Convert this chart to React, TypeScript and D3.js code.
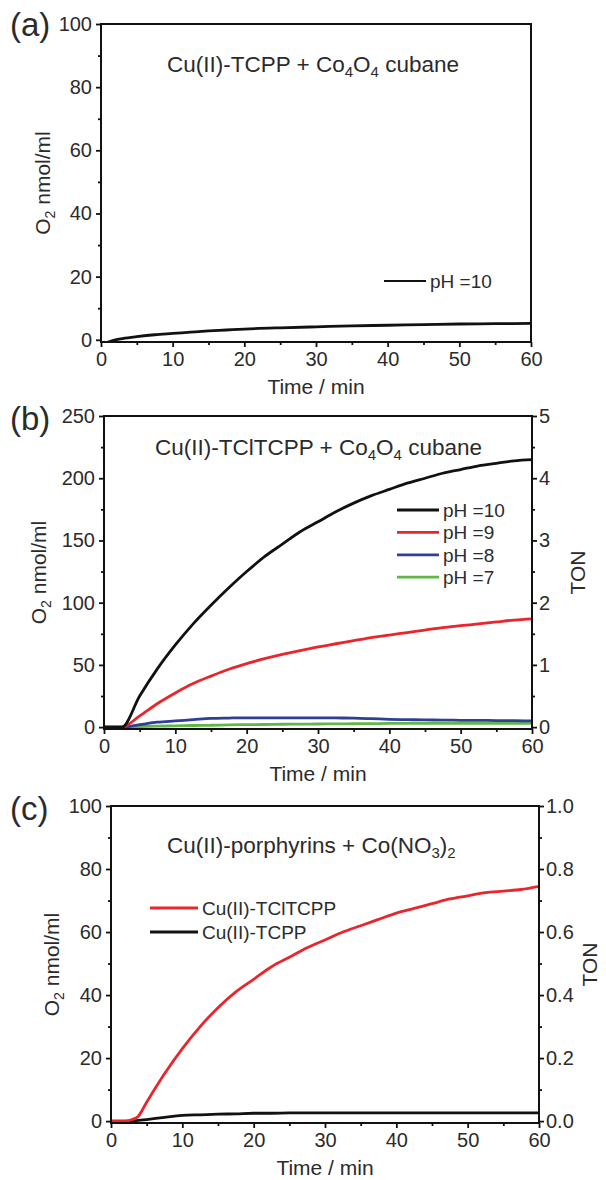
import React, { useEffect, useRef } from 'react';
import * as d3 from 'd3';

// ---------- data ----------
const timeTicks = [0, 10, 20, 30, 40, 50, 60];

// Panel (a): Cu(II)-TCPP + Co4O4 cubane
const aTime = [0, 1, 2, 3, 5, 7.5, 10, 12.5, 15, 17.5, 20, 25, 30, 35, 40, 45, 50, 55, 60];
const aPH10 = [-1, -0.7, 0, 0.4, 1, 1.6, 2, 2.4, 2.8, 3.1, 3.4, 3.8, 4.1, 4.4, 4.6, 4.8, 5, 5.1, 5.2];
const aYTicks = [0, 20, 40, 60, 80, 100];

// Panel (b): Cu(II)-TClTCPP + Co4O4 cubane
const bTime = [0, 2.5, 5, 7.5, 10, 12.5, 15, 17.5, 20, 22.5, 25, 27.5, 30, 32.5, 35, 37.5, 40, 42.5, 45, 47.5, 50, 52.5, 55, 57.5, 60];
const bPH10 = [0, 0, 25, 47, 66, 83, 98, 112, 125, 137, 147, 157, 165, 173, 180, 186, 191, 196, 200, 204, 207, 210, 212, 214, 215];
const bPH9 = [0, 0, 9, 19, 27.5, 35, 41, 46.5, 51, 55, 58.5, 61.5, 64.5, 67, 69.5, 72, 74, 76, 78, 80, 81.5, 83, 84.5, 86, 87];
const bPH8 = [0, 0, 2, 4, 5, 6, 7, 7.3, 7.5, 7.5, 7.5, 7.5, 7.5, 7.4, 7.2, 6.8, 6.3, 6, 5.8, 5.7, 5.5, 5.4, 5.3, 5.2, 5];
const bPH7 = [0, 0, 0.5, 0.8, 1, 1.3, 1.5, 1.8, 2, 2.1, 2.3, 2.4, 2.5, 2.6, 2.7, 2.8, 3, 3, 3, 3, 3, 3, 3, 3, 3];
const bYTicks = [0, 50, 100, 150, 200, 250];
const bTonTicks = [0, 1, 2, 3, 4, 5];

// Panel (c): Cu(II)-porphyrins + Co(NO3)2
const cTime = [0, 2, 3, 3.8, 5, 7.5, 10, 12.5, 15, 17.5, 20, 22.5, 25, 27.5, 30, 32.5, 35, 37.5, 40, 42.5, 45, 47.5, 50, 52.5, 55, 57.5, 60];
const cTClTCPP = [0, 0, 0.5, 1.5, 6, 15, 23, 30, 36, 41, 45, 49, 52, 55, 57.5, 60, 62, 64, 66, 67.5, 69, 70.5, 71.5, 72.5, 73, 73.5, 74.5];
const cTCPP = [0, 0, 0, 0.2, 0.5, 1.2, 1.8, 2, 2.2, 2.3, 2.5, 2.5, 2.6, 2.6, 2.6, 2.6, 2.6, 2.6, 2.6, 2.6, 2.6, 2.6, 2.6, 2.6, 2.6, 2.6, 2.6];
const cYTicks = [0, 20, 40, 60, 80, 100];
const cTonTicks = [0, 0.2, 0.4, 0.6, 0.8, 1.0];

const legendA = ['pH =10'];
const legendB = ['pH =10', 'pH =9', 'pH =8', 'pH =7'];
const legendC = ['Cu(II)-TClTCPP', 'Cu(II)-TCPP'];

// ---------- styling ----------
const FONT = "'Liberation Sans', Arial, sans-serif";
const TXT = '#2b2b2b';
const BLACK = '#111111';
const RED = '#e8262c';
const BLUE = '#2f3f95';
const GREEN = '#62b548';

type Series = { t: number[]; v: number[]; color: string; label: string };
type Panel = {
  letter: string;
  left: number; right: number; top: number; bottom: number;
  yDomain: [number, number];
  yTicks: number[]; yMinor: number;
  ton?: { domain: [number, number]; ticks: number[]; minor: number; fmt: string; labelX: number };
  series: Series[];
  title: { x: number; y: number; parts: [string, boolean][] };
  legend: { x1: number; x2: number; y0: number; dy: number };
  ylabelX: number;
  letterY: number;
};

const panels: Panel[] = [
  {
    letter: '(a)', left: 101, right: 531, top: 24, bottom: 342,
    yDomain: [-0.7, 100], yTicks: aYTicks, yMinor: 10,
    series: [{ t: aTime, v: aPH10, color: BLACK, label: legendA[0] }],
    title: { x: 167, y: 72, parts: [['Cu(II)-TCPP + Co', false], ['4', true], ['O', false], ['4', true], [' cubane', false]] },
    legend: { x1: 384, x2: 426, y0: 281, dy: 22.4 },
    ylabelX: 50, letterY: 36,
  },
  {
    letter: '(b)', left: 104, right: 532, top: 416, bottom: 729,
    yDomain: [-1.5, 250], yTicks: bYTicks, yMinor: 25,
    ton: { domain: [-0.03, 5], ticks: bTonTicks, minor: 0.5, fmt: 'd', labelX: 578 },
    series: [
      { t: bTime, v: bPH10, color: BLACK, label: legendB[0] },
      { t: bTime, v: bPH9, color: RED, label: legendB[1] },
      { t: bTime, v: bPH8, color: BLUE, label: legendB[2] },
      { t: bTime, v: bPH7, color: GREEN, label: legendB[3] },
    ],
    title: { x: 155, y: 455, parts: [['Cu(II)-TClTCPP + Co', false], ['4', true], ['O', false], ['4', true], [' cubane', false]] },
    legend: { x1: 397, x2: 439, y0: 510, dy: 22.4 },
    ylabelX: 46, letterY: 430,
  },
  {
    letter: '(c)', left: 111, right: 539, top: 806, bottom: 1123,
    yDomain: [-0.6, 100], yTicks: cYTicks, yMinor: 10,
    ton: { domain: [-0.006, 1], ticks: cTonTicks, minor: 0.1, fmt: '.1f', labelX: 590 },
    series: [
      { t: cTime, v: cTClTCPP, color: RED, label: legendC[0] },
      { t: cTime, v: cTCPP, color: BLACK, label: legendC[1] },
    ],
    title: { x: 167, y: 853, parts: [['Cu(II)-porphyrins + Co(NO', false], ['3', true], [')', false], ['2', true]] },
    legend: { x1: 150, x2: 198, y0: 908, dy: 24 },
    ylabelX: 59, letterY: 820,
  },
];

function drawPanel(svg: d3.Selection<SVGSVGElement, unknown, null, undefined>, p: Panel) {
  const g = svg.append('g');
  const x = d3.scaleLinear().domain([0, 60]).range([p.left, p.right]);
  const y = d3.scaleLinear().domain(p.yDomain).range([p.bottom, p.top]);

  const clipId = 'clip' + p.letter.replace(/\W/g, '');
  g.append('clipPath').attr('id', clipId).append('rect')
    .attr('x', p.left).attr('y', p.top).attr('width', p.right - p.left).attr('height', p.bottom - p.top);
  const line = d3.line<[number, number]>().x(d => x(d[0])).y(d => y(d[1])).curve(d3.curveMonotoneX);
  p.series.slice().reverse().forEach(s => {
    g.append('path')
      .attr('d', line(s.t.map((t, i) => [t, s.v[i]] as [number, number])))
      .attr('fill', 'none').attr('stroke', s.color).attr('stroke-width', 2.8)
      .attr('clip-path', `url(#${clipId})`);
  });

  g.append('rect').attr('x', p.left).attr('y', p.top)
    .attr('width', p.right - p.left).attr('height', p.bottom - p.top)
    .attr('fill', 'none').attr('stroke', BLACK).attr('stroke-width', 2);

  const xMinor = d3.range(5, 60, 10);
  const xAx = g.append('g').attr('transform', `translate(0,${p.bottom})`)
    .call(d3.axisBottom(x).tickValues(timeTicks).tickSize(5).tickPadding(5).tickFormat(d3.format('d')));
  const xAxMin = g.append('g').attr('transform', `translate(0,${p.bottom})`)
    .call(d3.axisBottom(x).tickValues(xMinor).tickSize(3).tickFormat(() => ''));
  [xAx, xAxMin].forEach(a => { a.select('.domain').remove(); a.selectAll('line').attr('stroke', BLACK).attr('stroke-width', 1.8); });
  xAx.selectAll('text').attr('font-family', FONT).attr('font-size', 20).attr('fill', TXT);

  const yMinorVals = d3.range(p.yTicks[0] + p.yMinor, p.yTicks[p.yTicks.length - 1], p.yMinor * 2);
  const yAx = g.append('g').attr('transform', `translate(${p.left},0)`)
    .call(d3.axisLeft(y).tickValues(p.yTicks).tickSize(5).tickPadding(4).tickFormat(d3.format('d')));
  const yAxMin = g.append('g').attr('transform', `translate(${p.left},0)`)
    .call(d3.axisLeft(y).tickValues(yMinorVals).tickSize(3).tickFormat(() => ''));
  [yAx, yAxMin].forEach(a => { a.select('.domain').remove(); a.selectAll('line').attr('stroke', BLACK).attr('stroke-width', 1.8); });
  yAx.selectAll('text').attr('font-family', FONT).attr('font-size', 20).attr('fill', TXT);

  if (p.ton) {
    const yr = d3.scaleLinear().domain(p.ton.domain).range([p.bottom, p.top]);
    const t = p.ton.ticks;
    const minorVals = d3.range(t[0] + p.ton.minor, t[t.length - 1], p.ton.minor * 2);
    const rAx = g.append('g').attr('transform', `translate(${p.right},0)`)
      .call(d3.axisRight(yr).tickValues(t).tickSize(5).tickPadding(2).tickFormat(d3.format(p.ton.fmt)));
    const rAxMin = g.append('g').attr('transform', `translate(${p.right},0)`)
      .call(d3.axisRight(yr).tickValues(minorVals).tickSize(3).tickFormat(() => ''));
    [rAx, rAxMin].forEach(a => { a.select('.domain').remove(); a.selectAll('line').attr('stroke', BLACK).attr('stroke-width', 1.8); });
    rAx.selectAll('text').attr('font-family', FONT).attr('font-size', 20).attr('fill', TXT);
    svg.append('text').attr('transform', `translate(${p.ton.labelX + 7},${(p.top + p.bottom) / 2}) rotate(-90)`)
      .attr('text-anchor', 'middle').attr('font-family', FONT).attr('font-size', 21).attr('fill', TXT)
      .text('TON');
  }

  svg.append('text').attr('x', (p.left + p.right) / 2).attr('y', p.bottom + 52)
    .attr('text-anchor', 'middle').attr('font-family', FONT).attr('font-size', 21).attr('fill', TXT)
    .text('Time / min');

  const yl = svg.append('text').attr('transform', `translate(${p.ylabelX},${(p.top + p.bottom) / 2}) rotate(-90)`)
    .attr('text-anchor', 'middle').attr('font-family', FONT).attr('font-size', 21).attr('fill', TXT);
  yl.append('tspan').text('O');
  yl.append('tspan').text('2').attr('font-size', 14).attr('dy', 5);
  yl.append('tspan').text(' nmol/ml').attr('dy', -5);

  svg.append('text').attr('x', 10).attr('y', p.letterY)
    .attr('font-family', FONT).attr('font-size', 33).attr('fill', TXT).text(p.letter);

  const tt = svg.append('text').attr('x', p.title.x).attr('y', p.title.y)
    .attr('font-family', FONT).attr('font-size', 22.5).attr('fill', TXT);
  let sub = false;
  p.title.parts.forEach(([s, isSub]) => {
    const ts = tt.append('tspan').text(s);
    if (isSub && !sub) { ts.attr('dy', 5).attr('font-size', 15); sub = true; }
    else if (isSub && sub) { ts.attr('font-size', 15); }
    else if (!isSub && sub) { ts.attr('dy', -5); sub = false; }
  });

  p.series.forEach((s, i) => {
    const ly = p.legend.y0 + i * p.legend.dy;
    svg.append('line').attr('x1', p.legend.x1).attr('x2', p.legend.x2).attr('y1', ly).attr('y2', ly)
      .attr('stroke', s.color).attr('stroke-width', p.series.length === 1 ? 1.8 : 2.8);
    svg.append('text').attr('x', p.legend.x2 + 4).attr('y', ly + 7)
      .attr('font-family', FONT).attr('font-size', 19).attr('fill', TXT).text(s.label);
  });
}

export default function App() {
  const ref = useRef<SVGSVGElement>(null);
  useEffect(() => {
    if (!ref.current) return;
    const svg = d3.select(ref.current);
    svg.selectAll('*').remove();
    panels.forEach(p => drawPanel(svg, p));
  }, []);
  return (
    <svg ref={ref} width={606} height={1180}
      style={{ position: 'absolute', left: 0, top: 0, background: '#fff' }} />
  );
}
